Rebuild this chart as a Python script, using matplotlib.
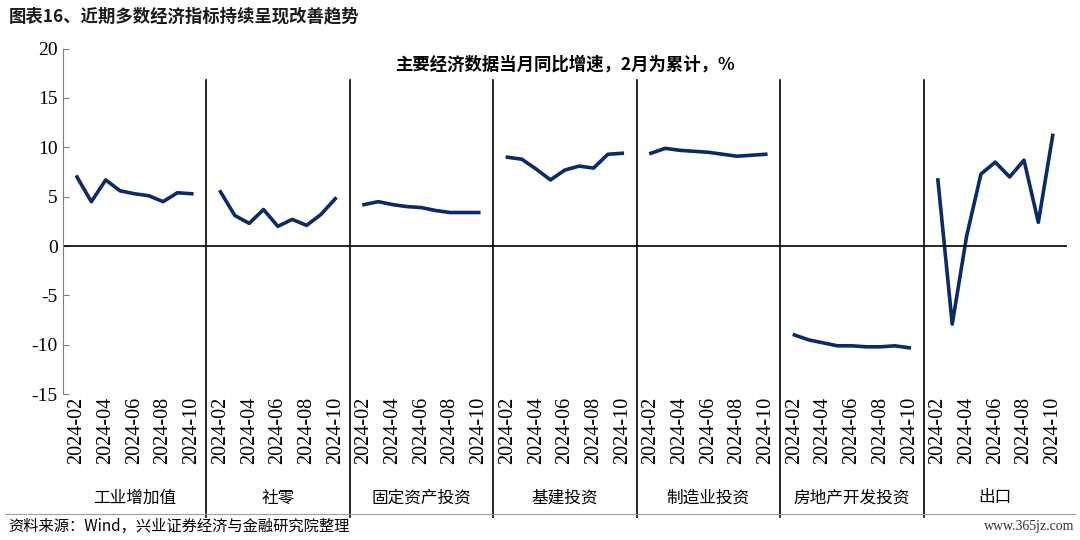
import numpy as np
import matplotlib
matplotlib.use("Agg")
import matplotlib.pyplot as plt

months = ["2024-02","2024-03","2024-04","2024-05","2024-06","2024-07","2024-08","2024-09","2024-10"]
groups = ["工业增加值","社零","固定资产投资","基建投资","制造业投资","房地产开发投资","出口"]
industry = [7.0,4.5,6.7,5.6,5.3,5.1,4.5,5.4,5.3]
retail = [5.5,3.1,2.3,3.7,2.0,2.7,2.1,3.2,4.8]
fai = [4.2,4.5,4.2,4.0,3.9,3.6,3.4,3.4,3.4]
infra = [9.0,8.8,7.8,6.7,7.7,8.1,7.9,9.3,9.4]
manuf = [9.4,9.9,9.7,9.6,9.5,9.3,9.1,9.2,9.3]
realestate = [-9.0,-9.5,-9.8,-10.1,-10.1,-10.2,-10.2,-10.1,-10.3]
export = [6.7,-7.9,1.0,7.3,8.5,7.0,8.7,2.4,11.2]
series = [industry, retail, fai, infra, manuf, realestate, export]

plt.rcParams["font.family"] = ["Liberation Serif", "Noto Sans CJK SC"]
plt.rcParams["axes.unicode_minus"] = False
fig = plt.figure(figsize=(10.8, 5.4), dpi=100)
ax = fig.add_axes([0.058, 0.27, 0.93, 0.64])
n = len(months)
slot = n + 1
ticks, labels = [], []
for g, vals in enumerate(series):
    xs = np.arange(n) + g * slot + 0.5
    ax.plot(xs, vals, color="#0b2a66", lw=2.6, solid_joinstyle="round")
    for i in range(0, n, 2):
        ticks.append(xs[i]); labels.append(months[i])
    ax.text(g * slot + slot / 2 - 0.5, -0.30, groups[g], transform=ax.get_xaxis_transform(),
            ha="center", va="center", fontsize=12, fontfamily="Noto Sans CJK SC")
    if g > 0:
        xd = g * slot - 0.5
        ax.plot([xd, xd], [0.91, -0.355], transform=ax.get_xaxis_transform(),
                color="black", lw=1.2, clip_on=False)
ax.set_xlim(-0.5, len(series) * slot - 0.5)
ax.set_ylim(-15, 20)
ax.set_yticks(range(-15, 21, 5))
ax.tick_params(axis="y", labelsize=14, direction="in", length=4, color="gray")
ax.set_xticks(ticks)
ax.set_xticklabels(labels, rotation=90, fontsize=14.5)
ax.tick_params(axis="x", length=0, pad=2)
ax.axhline(0, color="black", lw=1.2)
for s in ["top", "right", "bottom"]:
    ax.spines[s].set_visible(False)
ax.spines["left"].set_color("gray")
ax.text(0.5, 0.955, "主要经济数据当月同比增速，2月为累计，%", transform=ax.transAxes,
        ha="center", va="center", fontsize=12.5, fontweight="bold", fontfamily="Noto Sans CJK SC")
fig.text(0.008, 0.97, "图表16、近期多数经济指标持续呈现改善趋势", fontsize=12.5, fontweight="bold",
         color="#1a1a1a", va="center", fontfamily="Noto Sans CJK SC")
fig.add_artist(plt.Line2D([0.005, 0.995], [0.048, 0.048], color="#a0a0a0", lw=0.8))
fig.text(0.008, 0.025, "资料来源：Wind，兴业证券经济与金融研究院整理", fontsize=11, va="center",
         fontfamily="Noto Sans CJK SC")
fig.text(0.995, 0.025, "www.365jz.com", fontsize=10, va="center", ha="right", color="#333333")
fig.savefig("out.png", dpi=100)
